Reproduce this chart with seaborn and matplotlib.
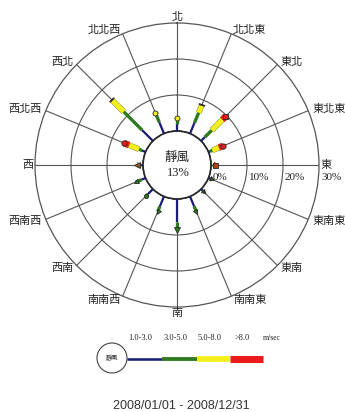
import numpy as np
import pandas as pd
import matplotlib
matplotlib.use("Agg")
import matplotlib.pyplot as plt
import matplotlib.patheffects as pe
import matplotlib.colors as mcolors
from matplotlib.markers import MarkerStyle
from matplotlib.transforms import Affine2D
from matplotlib.patches import Circle
import seaborn as sns

# ---- data -------------------------------------------------------------
directions = ["北", "北北東", "東北", "東北東", "東", "東南東", "東南", "南南東",
              "南", "南南西", "西南", "西南西", "西", "西北西", "西北", "北北西"]
bands = ["1.0-3.0", "3.0-5.0", "5.0-8.0", ">8.0"]
# frequency (%) of each speed class per direction
speed_1_3 = [2.0, 3.3, 1.5, 0.4, 0.4, 0.5, 0.6, 3.0, 6.4, 3.0, 2.0, 1.3, 0.5, 1.0, 4.3, 3.4]
speed_3_5 = [1.2, 3.0, 2.7, 0.8, 0.3, 0.4, 0.3, 1.7, 2.2, 1.6, 0.9, 1.7, 0.8, 1.0, 7.2, 2.3]
speed_5_8 = [0.4, 2.3, 4.2, 2.0, 0.2, 0.1, 0.1, 0.0, 0.0, 0.0, 0.0, 0.0, 0.3, 3.0, 4.5, 0.6]
speed_gt8 = [0.0, 0.1, 1.2, 1.2, 0.3, 0.0, 0.0, 0.0, 0.0, 0.0, 0.0, 0.0, 0.1, 1.5, 0.2, 0.0]
calm_pct = 13
ring_ticks = [0, 10, 20, 30]
ring_labels = ["0%", "10%", "20%", "30%"]
calm_label = "靜風"
unit_label = "m/sec"
period_label = "2008/01/01 - 2008/12/31"

# ---- styles -----------------------------------------------------------
band_colors = {"1.0-3.0": "#1d1d78", "3.0-5.0": "#2e7a1e",
               "5.0-8.0": "#f4ef1c", ">8.0": "#ec1b1b"}
band_widths = {"1.0-3.0": 1.6, "3.0-5.0": 2.4, "5.0-8.0": 3.6, ">8.0": 4.4}
cap_shapes = ["o", "_", "D", "o", "s", "^", "^", "^", "^", "^", "o", "^", "^", "o", "_", "o"]
cap_faces = ["#f4ef1c", "#2a2a2a", "#ec1b1b", "#ec1b1b", "#a8451c", "#24501a", "#24501a", "#2e7a1e",
             "#2e7a1e", "#2e7a1e", "#2e7a1e", "#2e7a1e", "#8a5a2a", "#ec1b1b", "#2a2a2a", "#f4ef1c"]
cap_sizes = [3.6, 5, 3.6, 3.8, 3.6, 3.2, 3.0, 3.6, 4.4, 3.6, 3.0, 3.8, 4.0, 3.8, 5, 3.6]
grid_col = "#555555"
text_col = "#222222"

sns.set_theme(style="white")
plt.rcParams["font.family"] = ["Noto Sans CJK TC", "DejaVu Sans"]

theta_deg = np.arange(len(directions)) * 22.5
theta = np.deg2rad(theta_deg)

# long table of radial segments, one pair of points per speed class
rows = []
series = [speed_1_3, speed_3_5, speed_5_8, speed_gt8]
for i, d in enumerate(directions):
    start = 0.0
    for band, vals in zip(bands, series):
        v = vals[i]
        if v <= 0:
            continue
        seg = f"{d}|{band}"
        rows.append(dict(seg=seg, band=band, theta=theta[i], r=start))
        rows.append(dict(seg=seg, band=band, theta=theta[i], r=start + v))
        start += v
df = pd.DataFrame(rows)
totals = np.sum(np.array(series), axis=0)

W, H = 345, 412
fig = plt.figure(figsize=(W / 100, H / 100), dpi=100)
fig.patch.set_facecolor("white")

cx, cy, R = 177, 165, 142
ax = fig.add_axes([(cx - R) / W, (H - cy - R) / H, 2 * R / W, 2 * R / H], projection="polar")
ax.set_theta_zero_location("N")
ax.set_theta_direction(-1)
ax.set_facecolor("white")

sns.lineplot(data=df, x="theta", y="r", units="seg", hue="band", size="band",
             palette=band_colors, sizes=band_widths, hue_order=bands, size_order=bands,
             estimator=None, sort=False, legend=False, ax=ax,
             solid_capstyle="butt", zorder=3)

# thin dark rim on the faster classes
for line in ax.lines:
    c = mcolors.to_hex(line.get_color())
    if c in (band_colors["5.0-8.0"], band_colors[">8.0"]):
        lw = line.get_linewidth()
        line.set_path_effects([pe.Stroke(linewidth=lw + 0.5, foreground="#6a7a2a"), pe.Normal()])

# end caps
for i in range(len(directions)):
    m = MarkerStyle(cap_shapes[i], transform=Affine2D().rotate_deg(-theta_deg[i]))
    ax.plot([theta[i]], [totals[i]], marker=m, ms=cap_sizes[i], mfc=cap_faces[i],
            mec="#2a2a2a", mew=0.6 if cap_shapes[i] != "_" else 1.3,
            ls="none", zorder=4, clip_on=False)

ax.set_ylim(0, 30)
ax.set_rorigin(-9.44)
ax.set_xticks(theta)
ax.set_xticklabels([])
ax.set_yticks(ring_ticks[:-1])
ax.set_yticklabels([])
ax.set_xlabel("")
ax.set_ylabel("")
ax.grid(True, color=grid_col, lw=0.8)
ax.spines["polar"].set_color(grid_col)
ax.spines["polar"].set_linewidth(0.9)
ax.plot(np.linspace(0, 2 * np.pi, 200), np.zeros(200), color=grid_col, lw=0.8, zorder=2)

# compass labels
for i, d in enumerate(directions):
    s, c = np.sin(theta[i]), np.cos(theta[i])
    if abs(s) < 0.1:
        ha, va, r = "center", ("bottom" if c > 0 else "top"), 30.3
    else:
        ha = "left" if s > 0 else "right"
        va = "center"
        r = 30.3 if abs(c) < 0.1 else 31.2
    ax.text(theta[i], r, d, ha=ha, va=va, fontsize=8, color=text_col, clip_on=False)

# ring percentages along the east spoke
for rt, lbl in zip(ring_ticks, ring_labels):
    ax.annotate(lbl, xy=(np.pi / 2, rt), xytext=(2, -12), textcoords="offset pixels",
                ha="left", va="center", fontsize=8, family="Liberation Serif",
                color=text_col, annotation_clip=False)

# calm share in the middle
fig.text(cx / W, 1 - 157 / H, calm_label, ha="center", va="center", fontsize=9, color=text_col)
fig.text((cx + 1) / W, 1 - 173 / H, f"{calm_pct}%", ha="center", va="center", fontsize=9,
         family="Liberation Serif", color=text_col)

# speed-class key below the rose
lg = fig.add_axes([0, 0, 1, 1])
lg.set_xlim(0, W)
lg.set_ylim(H, 0)
lg.axis("off")
lg.add_patch(Circle((112, 358), 15, fill=False, ec="#444444", lw=0.8))
lg.text(112, 358, calm_label, ha="center", va="center", fontsize=4.5, color=text_col)
edges = [127, 162, 197, 230, 263]
for k, band in enumerate(bands):
    lg.plot([edges[k], edges[k + 1]], [359, 359], color=band_colors[band],
            lw=band_widths[band] * 1.15, solid_capstyle="butt")
    lg.text((edges[k] + edges[k + 1]) / 2 - 4, 338, band, ha="center", va="center",
            fontsize=6, family="Liberation Serif", color=text_col)
lg.text(272, 338, unit_label, ha="center", va="center", fontsize=5.5,
        family="Liberation Serif", color=text_col)
fig.text(181 / W, 1 - 406 / H, period_label, ha="center", va="center", fontsize=9,
         family="Liberation Sans", color="#333333")

fig.savefig("out.png", dpi=100, facecolor="white")
